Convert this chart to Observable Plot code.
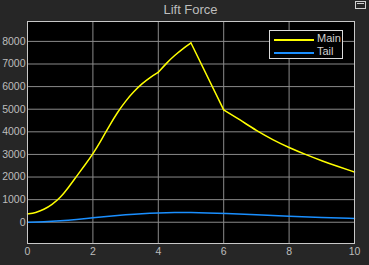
<!DOCTYPE html>
<html>
<head>
<meta charset="utf-8">
<script src="https://cdn.jsdelivr.net/npm/d3@7"></script>
<script src="https://cdn.jsdelivr.net/npm/@observablehq/plot@0.6"></script>
<style>
  html, body { margin: 0; padding: 0; background: #262626; }
  #wrap { position: relative; width: 369px; height: 265px; overflow: hidden; font-family: "Liberation Sans", Arial, sans-serif; }
  #title { position: absolute; left: 27px; width: 327px; top: 2px; text-align: center; color: #bdbdbd; font-size: 13px; }
  #legend { position: absolute; left: 269px; top: 30px; width: 74px; height: 29px; background: #000; border: 1px solid #dcdcdc; box-sizing: border-box; }
  .li { position: absolute; left: 3px; height: 12px; width: 70px; }
  .li .sw { position: absolute; left: 1px; top: 6px; width: 40px; height: 2px; }
  .li .lab { position: absolute; left: 44px; top: -1px; color: #d0d0d0; font-size: 11px; }
  #icon { position: absolute; left: 355px; top: 1px; width: 11px; height: 8px; border: 1px solid #d0d0d0; box-sizing: border-box; }
  #icon:after { content: ""; position: absolute; left: 1px; top: 1px; width: 7px; border-top: 1px solid #d0d0d0; }
</style>
</head>
<body>
<div id="wrap">
  <div id="title">Lift Force</div>
  <div id="chart"></div>
  <div id="legend"></div>
  <div id="icon"></div>
</div>
<script>
const xTicks = [0, 2, 4, 6, 8, 10];
const yTicks = [0, 1000, 2000, 3000, 4000, 5000, 6000, 7000, 8000];
const seriesNames = ["Main", "Tail"];
const seriesColors = ["#ffff00", "#1a8fff"];

// Main lift; smooth pieces joined at sharp corners (t = 4, 5, 6)
const mainT = [0, 0.25, 0.5, 0.75, 1, 1.25, 1.5, 1.75, 2, 2.25, 2.5, 2.75, 3, 3.25, 3.5, 3.75, 4, 4.25, 4.5, 4.75, 5, 6, 6.5, 7, 7.5, 8, 8.5, 9, 9.5, 10];
const mainV = [370, 420, 560, 780, 1080, 1530, 2030, 2520, 3020, 3620, 4260, 4860, 5360, 5780, 6130, 6410, 6630, 7040, 7380, 7680, 7930, 4970, 4530, 4050, 3650, 3300, 3000, 2720, 2460, 2220];
const mainCorners = [4, 5, 6];

const tailT = [0, 0.5, 1, 1.5, 2, 2.5, 3, 3.5, 4, 4.5, 5, 5.5, 6, 7, 8, 9, 10];
const tailV = [0, 20, 60, 120, 195, 265, 330, 385, 415, 428, 430, 415, 390, 330, 265, 210, 165];

// split main into segments at corners (corner points shared by adjacent segments)
const mainData = [];
mainT.forEach((t, i) => {
  const seg = mainCorners.filter(c => t > c).length;
  mainData.push({t, v: mainV[i], seg});
  if (mainCorners.includes(t)) mainData.push({t, v: mainV[i], seg: seg + 1});
});
const tailData = tailT.map((t, i) => ({t, v: tailV[i]}));

const chart = Plot.plot({
  width: 369,
  height: 265,
  marginLeft: 27,
  marginRight: 15,
  marginTop: 21,
  marginBottom: 22,
  style: { background: "transparent", color: "#bdbdbd", fontFamily: "Liberation Sans, Arial, sans-serif", fontSize: "10.5px", overflow: "visible" },
  x: { domain: [0, 10], ticks: xTicks, tickSize: 0, tickPadding: 4, label: null },
  y: { domain: [-940, 8880], ticks: yTicks, tickSize: 0, tickPadding: 2, label: null, tickFormat: d => String(d) },
  marks: [
    Plot.frame({ fill: "#000", stroke: null }),
    Plot.gridX(xTicks, { stroke: "#8a8a8a", strokeOpacity: 1 }),
    Plot.gridY(yTicks, { stroke: "#8a8a8a", strokeOpacity: 1 }),
    Plot.line(tailData, { x: "t", y: "v", stroke: seriesColors[1], strokeWidth: 1.5, curve: "basis" }),
    Plot.line(mainData, { x: "t", y: "v", z: "seg", stroke: seriesColors[0], strokeWidth: 1.5, curve: "basis" }),
    Plot.frame({ stroke: "#c8c8c8", strokeWidth: 1 })
  ]
});
document.getElementById("chart").appendChild(chart);

const legend = document.getElementById("legend");
seriesNames.forEach((name, i) => {
  const item = document.createElement("div");
  item.className = "li";
  item.style.top = (2 + i * 13) + "px";
  item.innerHTML = `<div class="sw" style="background:${seriesColors[i]}"></div><div class="lab">${name}</div>`;
  legend.appendChild(item);
});
</script>
</body>
</html>
